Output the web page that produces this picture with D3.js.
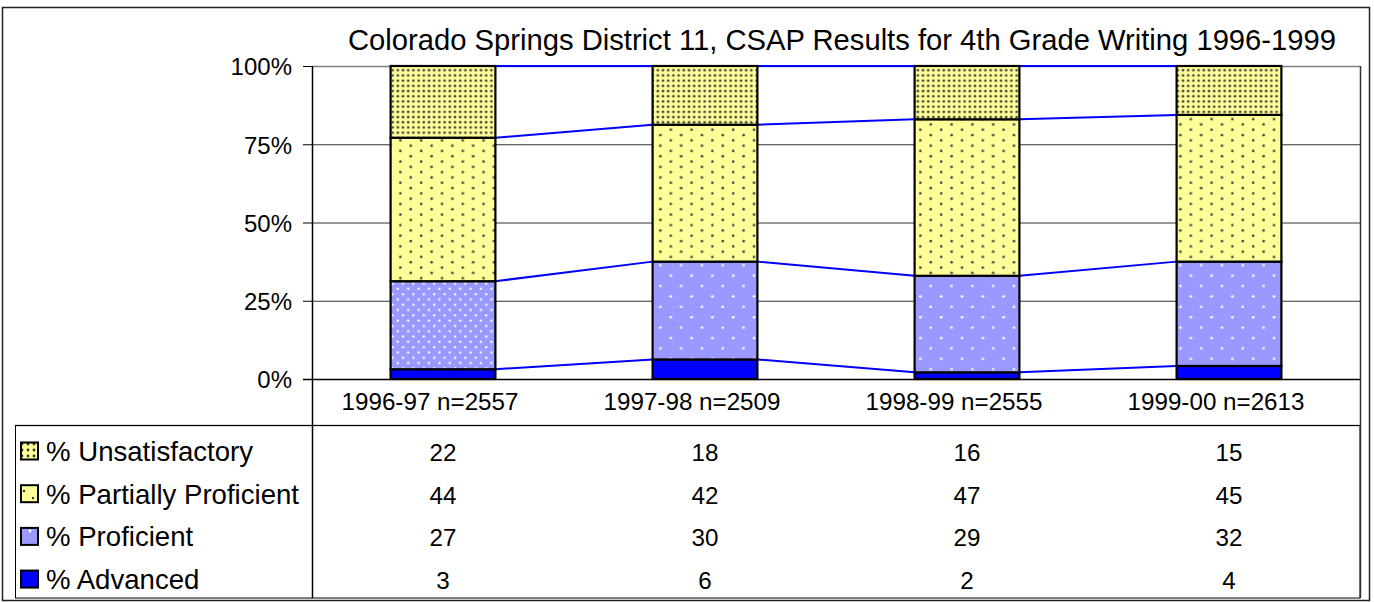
<!DOCTYPE html>
<html><head><meta charset="utf-8">
<script src="https://cdn.jsdelivr.net/npm/d3@7"></script>
<style>
html,body{margin:0;padding:0;background:#fff;}
svg{display:block;font-family:"Liberation Sans",Arial,sans-serif;}
</style></head>
<body>
<svg id="chart" width="1374" height="602"></svg>
<script>
// ---- data ----
const title = "Colorado Springs District 11, CSAP Results for 4th Grade Writing 1996-1999";
const categories = ["1996-97 n=2557", "1997-98 n=2509", "1998-99 n=2555", "1999-00 n=2613"];
const seriesKeys = ["adv", "prof", "part", "unsat"];
const seriesNames = ["% Advanced", "% Proficient", "% Partially Proficient", "% Unsatisfactory"];
const advanced = [3, 6, 2, 4];
const proficient = [27, 30, 29, 32];
const partially = [44, 42, 47, 45];
const unsatisfactory = [22, 18, 16, 15];
const yTicks = [0, 0.25, 0.5, 0.75, 1];
const tableOrder = ["unsat", "part", "prof", "adv"];

// ---- build ----
const seriesValues = {adv: advanced, prof: proficient, part: partially, unsat: unsatisfactory};
const nameOf = {}; seriesKeys.forEach((k, i) => nameOf[k] = seriesNames[i]);
const rows = categories.map((c, i) => {
  const r = {cat: c};
  seriesKeys.forEach(k => r[k] = seriesValues[k][i]);
  return r;
});
const stacked = d3.stack().keys(seriesKeys).offset(d3.stackOffsetExpand)(rows);

const svg = d3.select("#chart");
const plot = {left: 312, right: 1360, top: 66, bottom: 379};

const x = d3.scaleBand().domain(categories).range([plot.left, plot.right]).paddingInner(0.6).paddingOuter(0.3);
const y = d3.scaleLinear().domain([0, 1]).range([plot.bottom, plot.top]);

// ---- patterns ----
const defs = svg.append("defs");
function pat(id, w, h, bg, dots, color, r, ox, oy) {
  const p = defs.append("pattern").attr("id", id).attr("patternUnits", "userSpaceOnUse")
    .attr("width", w).attr("height", h).attr("x", ox || 0).attr("y", oy || 0);
  p.append("rect").attr("width", w).attr("height", h).attr("fill", bg);
  dots.forEach(d => p.append("circle").attr("cx", d[0]).attr("cy", d[1]).attr("r", r).attr("fill", color));
}
pat("p-unsat", 5.2, 5.2, "#FFFF99", [[2.6, 2.6]], "#44443a", 1.4);
pat("p-part", 20.8, 10.6, "#FFFF99", [[5.2, 2.6], [15.6, 7.9]], "#4a4a40", 1.35);
pat("p-prof", 20.8, 20.8, "#9999FF", [[5.2, 5.2], [15.6, 15.6]], "#ffffff", 1.3);
pat("p-prof-dense", 10.4, 10.6, "#9999FF", [[2.6, 2.6], [7.8, 7.9]], "#ffffff", 1.15);
// legend key patterns
pat("k-unsat", 6, 6, "#FFFF99", [[2, 3]], "#333", 1.4, 20, 441);
pat("k-part", 18, 18, "#FFFF99", [[4, 5], [13, 12]], "#333", 1.2, 20, 0);
pat("k-prof", 18, 18, "#9999FF", [[10, 9]], "#ffffff", 1.4, 20, 0);

const fillOf = {adv: "#0000FF", prof: "url(#p-prof)", part: "url(#p-part)", unsat: "url(#p-unsat)"};
const keyFill = {adv: "#0000FF", prof: "url(#k-prof)", part: "url(#k-part)", unsat: "url(#k-unsat)"};
const pointFillOverride = {"prof|0": "url(#p-prof-dense)"};

// ---- outer frame ----
svg.append("rect").attr("x", 2.5).attr("y", 7.5).attr("width", 1367).attr("height", 593)
  .attr("fill", "none").attr("stroke", "#222").attr("stroke-width", 1.5);

// ---- title ----
svg.append("text").attr("x", 842).attr("y", 50).attr("text-anchor", "middle")
  .attr("font-size", 29.2).attr("fill", "#000").text(title);

// ---- gridlines ----
svg.append("g").selectAll("line").data(yTicks.filter(t => t > 0 && t < 1)).join("line")
  .attr("x1", plot.left).attr("x2", plot.right).attr("y1", d => y(d) + 0.5).attr("y2", d => y(d) + 0.5)
  .attr("stroke", "#333").attr("stroke-width", 1);
svg.append("line").attr("x1", plot.left).attr("x2", plot.right).attr("y1", plot.top + 0.5).attr("y2", plot.top + 0.5)
  .attr("stroke", "#808080").attr("stroke-width", 1.5);

// ---- series lines ----
const lineG = svg.append("g");
stacked.forEach(s => {
  for (let i = 0; i < categories.length - 1; i++) {
    lineG.append("line")
      .attr("x1", x(categories[i]) + x.bandwidth()).attr("y1", y(s[i][1]))
      .attr("x2", x(categories[i + 1])).attr("y2", y(s[i + 1][1]))
      .attr("stroke", "#0000FF").attr("stroke-width", 2);
  }
});

// ---- bars ----
const barG = svg.append("g");
stacked.forEach(s => {
  barG.append("g").selectAll("rect").data(s).join("rect")
    .attr("x", d => x(d.data.cat))
    .attr("width", x.bandwidth())
    .attr("y", d => y(d[1]))
    .attr("height", d => y(d[0]) - y(d[1]))
    .attr("fill", (d, i) => pointFillOverride[s.key + "|" + i] || fillOf[s.key])
    .attr("stroke", "#000").attr("stroke-width", 2.2);
});

// ---- y axis ----
const yAxis = d3.axisLeft(y).tickValues(yTicks).tickFormat(d3.format(".0%")).tickSize(9).tickPadding(11).tickSizeOuter(0);
const ya = svg.append("g").attr("transform", `translate(${plot.left},0)`).call(yAxis);
ya.select(".domain").remove();
ya.selectAll(".tick line").attr("stroke", "#000");
ya.selectAll(".tick text").attr("font-size", 24).attr("fill", "#000").attr("dy", "0.37em")
  .attr("font-family", "'Liberation Sans', Arial, sans-serif");

// ---- category row ----
svg.append("g").selectAll("text").data(categories).join("text")
  .attr("x", d => x(d) + x.bandwidth() / 2 - 13).attr("y", 410).attr("text-anchor", "middle")
  .attr("font-size", 24.2).attr("fill", "#000").text(d => d);

// ---- data table ----
const tableTop = 425;
svg.append("line").attr("x1", 15).attr("x2", plot.right).attr("y1", tableTop + 0.5).attr("y2", tableTop + 0.5)
  .attr("stroke", "#808080").attr("stroke-width", 1.5);
svg.append("rect").attr("x", 15.5).attr("y", tableTop + 0.5).attr("width", plot.right - 15.5).attr("height", 598 - tableTop - 0.5)
  .attr("fill", "none").attr("stroke", "#000").attr("stroke-width", 1);

const tg = svg.append("g");
tableOrder.forEach((k, r) => {
  const base = 461 + r * 42.7;
  tg.append("rect").attr("x", 21).attr("y", base - 18.5).attr("width", 17).attr("height", 17)
    .attr("fill", keyFill[k]).attr("stroke", "#000").attr("stroke-width", 2);
  tg.append("text").attr("x", 46).attr("y", base).attr("font-size", 27.6).attr("fill", "#000").text(nameOf[k]);
  tg.append("g").selectAll("text").data(seriesValues[k]).join("text")
    .attr("x", (d, i) => x(categories[i]) + x.bandwidth() / 2).attr("y", base)
    .attr("text-anchor", "middle").attr("font-size", 24.2).attr("fill", "#000").text(d => d);
});

// ---- axis lines ----
svg.append("line").attr("x1", plot.left + 0.5).attr("x2", plot.left + 0.5).attr("y1", plot.top).attr("y2", 598)
  .attr("stroke", "#000").attr("stroke-width", 1.5);
svg.append("line").attr("x1", plot.right + 0.5).attr("x2", plot.right + 0.5).attr("y1", plot.top).attr("y2", 598)
  .attr("stroke", "#333").attr("stroke-width", 1.5);
svg.append("line").attr("x1", plot.left - 9).attr("x2", plot.right).attr("y1", plot.bottom + 0.5).attr("y2", plot.bottom + 0.5)
  .attr("stroke", "#000").attr("stroke-width", 1.5);
</script>
</body></html>
